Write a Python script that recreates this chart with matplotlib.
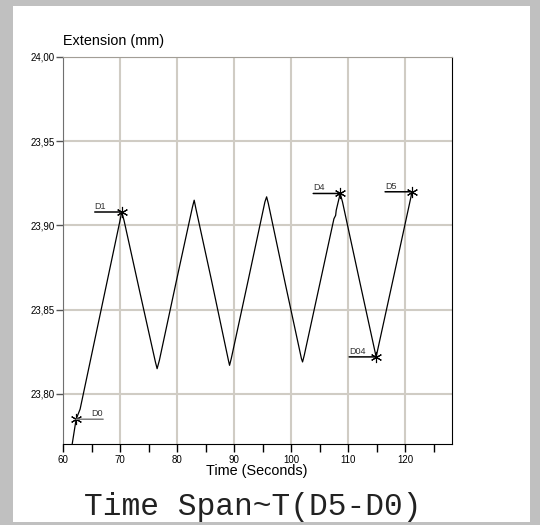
import matplotlib
matplotlib.use('Agg')
import matplotlib.pyplot as plt
from matplotlib.patches import Rectangle
from matplotlib.ticker import MultipleLocator, FuncFormatter

plt.rcParams['font.family'] = ['Liberation Sans', 'DejaVu Sans']

# extension trace (seconds, mm)
time_s = [61.6, 62.3, 63.0, 66.5, 70.0, 70.3, 70.7, 73.5, 76.2, 76.5, 76.9,
          80.0, 82.7, 83.0, 83.3, 86.0, 89.0, 89.2, 89.5, 92.5, 95.4, 95.7,
          96.0, 99.0, 101.8, 102.0, 102.3, 105.0, 107.5, 107.8, 107.9, 108.6,
          109.0, 112.0, 114.9, 118.0, 121.2]
extension = [23.770, 23.785, 23.791, 23.847, 23.903, 23.908, 23.903, 23.860,
             23.819, 23.815, 23.820, 23.869, 23.911, 23.915, 23.910, 23.868,
             23.820, 23.817, 23.821, 23.868, 23.914, 23.917, 23.913, 23.865,
             23.821, 23.819, 23.823, 23.865, 23.904, 23.906, 23.909, 23.919,
             23.914, 23.867, 23.822, 23.870, 23.920]

# marked points
mark_names = ['D0', 'D1', 'D4', 'D04', 'D5']
mark_t = [62.3, 70.3, 108.6, 114.9, 121.2]
mark_v = [23.785, 23.908, 23.919, 23.822, 23.920]
mark_side = [1, -1, -1, -1, -1]

W, H = 540, 525
fig = plt.figure(figsize=(W / 100, H / 100), dpi=100)
fig.patch.set_facecolor('#c0c0c0')
fig.patches.append(Rectangle((13 / W, 3 / H), 517 / W, 516 / H,
                             transform=fig.transFigure, facecolor='white',
                             edgecolor='none', zorder=-1))

ax = fig.add_axes([63 / W, (H - 444) / H, (452 - 63) / W, (444 - 57) / H])
ax.set_zorder(2)
ax.set_xlim(60, 128.2)
ax.set_ylim(23.7703, 24.0)

ax.xaxis.set_major_locator(MultipleLocator(10))
ax.xaxis.set_minor_locator(MultipleLocator(5))
ax.yaxis.set_major_locator(MultipleLocator(0.05))
ax.yaxis.set_major_formatter(FuncFormatter(lambda v, p: f'{v:.2f}'.replace('.', ',')))
ax.xaxis.set_major_formatter(FuncFormatter(lambda v, p: f'{v:.0f}'))
ax.tick_params(axis='x', which='both', direction='out', length=6, width=1,
               labelsize=7, pad=2, color='black')
ax.tick_params(axis='y', direction='out', length=5, width=1, labelsize=7,
               pad=1, color='#555555')
ax.grid(True, which='major', color='#d0ccc4', linewidth=1.5)
ax.set_axisbelow(True)

ax.spines['left'].set_color('#707070')
ax.spines['top'].set_color('#a29e96')
ax.spines['right'].set_color('black')
ax.spines['bottom'].set_color('black')

ax.plot(time_s, extension, color='black', linewidth=0.9, zorder=3)

for name, t, v, side in zip(mark_names, mark_t, mark_v, mark_side):
    ax.plot(t, v, marker=(6, 2, 0), markersize=8, color='black',
            markeredgewidth=0.8, zorder=4)
    lc = '#808080' if side > 0 else 'black'
    ax.annotate('', xy=(t, v), xytext=(27 * side, 0), textcoords='offset pixels',
                arrowprops=dict(arrowstyle='-', lw=1.1, color=lc,
                                shrinkA=0, shrinkB=0), zorder=4)
    tx = 15 if side > 0 else -27
    ax.annotate(name, xy=(t, v), xytext=(tx, 1), textcoords='offset pixels',
                ha='left', va='bottom', fontsize=6.5, color='#333333')

fig.text(63 / W, 1 - 41 / H, 'Extension (mm)', fontsize=10.4,
         ha='left', va='center')
fig.text(257 / W, 1 - 471 / H, 'Time (Seconds)', fontsize=10.4,
         ha='center', va='center')
fig.text(253 / W, 1 - 507 / H, 'Time Span~T(D5-D0)', fontsize=22.5,
         family='Liberation Mono', color='#222222', ha='center', va='center')

fig.savefig('out.png', dpi=100, facecolor=fig.get_facecolor())
